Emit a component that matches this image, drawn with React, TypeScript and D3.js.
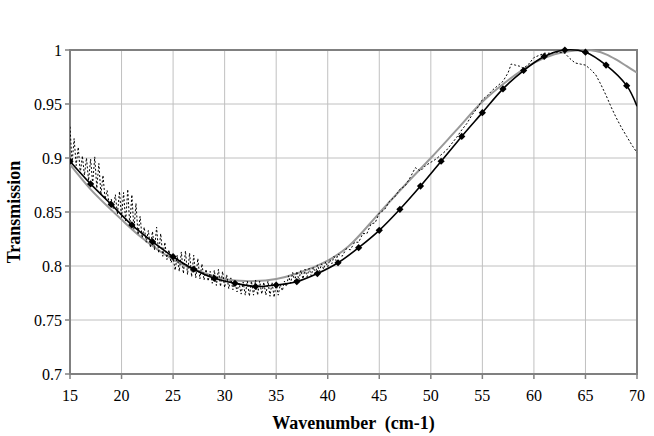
import { useMemo } from 'react'
import * as d3 from 'd3'

// fitted model with markers (black)
const modelX = [15, 17, 19, 21, 23, 25, 27, 29, 31, 33, 35, 37, 39, 41, 43, 45, 47, 49, 51, 53, 55, 57, 59, 61, 63, 65, 67, 69, 70]
const modelY = [0.897, 0.876, 0.857, 0.838, 0.8225, 0.8086, 0.797, 0.7886, 0.784, 0.781, 0.7824, 0.7855, 0.793, 0.803, 0.817, 0.833, 0.8525, 0.874, 0.897, 0.92, 0.942, 0.964, 0.981, 0.994, 1.0, 0.998, 0.986, 0.967, 0.948]
const markerCount = 28

// smooth fit (grey)
const fitX = [15, 17, 20, 22, 25, 27, 30, 32, 35, 37, 40, 42, 45, 47.5, 50, 52.5, 55, 57.5, 60, 62, 64, 65, 66, 67, 68, 69, 70]
const fitY = [0.894, 0.871, 0.843, 0.826, 0.806, 0.797, 0.788, 0.786, 0.788, 0.793, 0.805, 0.818, 0.849, 0.875, 0.9, 0.926, 0.952, 0.972, 0.988, 0.996, 0.9995, 1.0, 0.999, 0.996, 0.991, 0.985, 0.979]

// measured spectrum (dotted)
const measX = [
  15.0, 15.2, 15.4, 15.6, 15.8, 16.0, 16.2, 16.4, 16.6, 16.8, 17.0, 17.2, 17.4, 17.6, 17.8, 18.0, 18.2, 18.4, 18.6, 18.8,
  19.0, 19.2, 19.4, 19.6, 19.8, 20.0, 20.2, 20.4, 20.6, 20.8, 21.0, 21.2, 21.4, 21.6, 21.8, 22.0, 22.2, 22.4, 22.6, 22.8,
  23.0, 23.2, 23.4, 23.6, 23.8, 24.0, 24.2, 24.4, 24.6, 24.8, 25.0, 25.2, 25.4, 25.6, 25.8, 26.0, 26.2, 26.4, 26.6, 26.8,
  27.0, 27.2, 27.4, 27.6, 27.8, 28.0, 28.2, 28.4, 28.6, 28.8, 29.0, 29.2, 29.4, 29.6, 29.8, 30.0, 30.2, 30.4, 30.6, 30.8,
  31.0, 31.2, 31.4, 31.6, 31.8, 32.0, 32.2, 32.4, 32.6, 32.8, 33.0, 33.2, 33.4, 33.6, 33.8, 34.0, 34.2, 34.4, 34.6, 34.8,
  35.0, 35.2, 35.4, 35.6, 35.8, 36.0, 36.2, 36.4, 36.6, 36.8, 37.0, 37.2, 37.4, 37.6, 37.8, 38.0, 38.2, 38.4, 38.6, 38.8,
  39.0, 39.2, 39.4, 39.6, 39.8, 40.0, 40.2, 40.4, 40.6, 40.8, 41.0, 41.4, 41.8, 42.2, 42.6, 43.0, 43.4, 43.8, 44.2, 44.6,
  45.0, 45.5, 46.0, 46.5, 47.0, 47.5, 48.0, 48.5, 49.0, 49.5, 50.0, 50.5, 51.0, 51.5, 52.0, 52.5, 53.0, 53.5, 54.0, 54.5,
  55.0, 55.5, 56.0, 56.5, 57.0, 57.5, 57.8, 58.2, 58.6, 59.0, 59.5, 60.0, 60.5, 61.0, 61.5, 62.0, 62.5, 63.0, 63.5, 64.0,
  64.5, 65.0, 65.5, 66.0, 66.5, 67.0, 67.5, 68.0, 68.5, 69.0, 69.5, 70.0,
]
const measY = [
  0.929, 0.895, 0.918, 0.893, 0.91, 0.886, 0.902, 0.884, 0.9, 0.879, 0.899, 0.876, 0.901, 0.872, 0.895, 0.866, 0.884, 0.862, 0.87, 0.857,
  0.862, 0.853, 0.866, 0.848, 0.869, 0.845, 0.868, 0.841, 0.871, 0.837, 0.866, 0.834, 0.858, 0.829, 0.846, 0.826, 0.836, 0.822, 0.833, 0.817,
  0.832, 0.815, 0.836, 0.812, 0.83, 0.809, 0.822, 0.806, 0.815, 0.803, 0.808, 0.796, 0.81, 0.795, 0.813, 0.793, 0.814, 0.792, 0.812, 0.79,
  0.81, 0.789, 0.807, 0.788, 0.802, 0.787, 0.797, 0.786, 0.795, 0.784, 0.796, 0.782, 0.797, 0.781, 0.795, 0.78, 0.792, 0.779, 0.789, 0.778,
  0.786, 0.776, 0.784, 0.774, 0.785, 0.773, 0.786, 0.772, 0.786, 0.773, 0.787, 0.773, 0.786, 0.774, 0.785, 0.773, 0.786, 0.772, 0.785, 0.771,
  0.784, 0.773, 0.783, 0.777, 0.786, 0.781, 0.791, 0.784, 0.794, 0.786, 0.795, 0.787, 0.796, 0.788, 0.797, 0.79, 0.798, 0.791, 0.799, 0.793,
  0.801, 0.795, 0.802, 0.797, 0.804, 0.799, 0.806, 0.802, 0.809, 0.805, 0.811, 0.809, 0.816, 0.815, 0.822, 0.822, 0.83, 0.83, 0.839, 0.84,
  0.849, 0.852, 0.86, 0.864, 0.871, 0.874, 0.882, 0.891, 0.888, 0.893, 0.896, 0.899, 0.903, 0.907, 0.913, 0.919, 0.926, 0.932, 0.94, 0.946,
  0.954, 0.958, 0.963, 0.967, 0.971, 0.979, 0.987, 0.986, 0.985, 0.983, 0.987, 0.993, 0.995, 0.997, 0.997, 0.998, 0.998, 0.997, 0.992, 0.988,
  0.987, 0.986, 0.982, 0.977, 0.968, 0.958, 0.947, 0.937, 0.928, 0.92, 0.912, 0.905,
]

const xTicks = [15, 20, 25, 30, 35, 40, 45, 50, 55, 60, 65, 70]
const yTicks = [0.7, 0.75, 0.8, 0.85, 0.9, 0.95, 1]

const W = 654
const H = 436
const left = 70
const right = 637
const top = 50
const bottom = 374
const font = 'Liberation Serif'

export default function App() {
  const x = d3.scaleLinear().domain([15, 70]).range([left, right])
  const y = d3.scaleLinear().domain([0.7, 1]).range([bottom, top])

  const paths = useMemo(() => {
    const line = d3
      .line<[number, number]>()
      .x((d) => x(d[0]))
      .y((d) => y(d[1]))
    const smooth = d3
      .line<[number, number]>()
      .x((d) => x(d[0]))
      .y((d) => y(d[1]))
      .curve(d3.curveCatmullRom.alpha(0.5))
    return {
      model: smooth(modelX.map((v, i) => [v, modelY[i]])) ?? '',
      fit: smooth(fitX.map((v, i) => [v, fitY[i]])) ?? '',
      meas: line(measX.map((v, i) => [v, measY[i]])) ?? '',
    }
  }, [])

  const diamond = d3.symbol().type(d3.symbolSquare).size(26)() ?? ''
  const textStyle = { fontFamily: font }

  return (
    <svg width={W} height={H} style={{ position: 'absolute', left: 0, top: 0, background: '#fff' }}>
      <defs>
        <clipPath id="plot">
          <rect x={left} y={top - 4} width={right - left} height={bottom - top + 8} />
        </clipPath>
      </defs>
      {yTicks.map((t) => (
        <line key={`gy${t}`} x1={left} x2={right} y1={y(t)} y2={y(t)} stroke="#c0c0c0" strokeWidth={1} />
      ))}
      {xTicks.map((t) => (
        <line key={`gx${t}`} x1={x(t)} x2={x(t)} y1={top} y2={bottom} stroke="#c0c0c0" strokeWidth={1} />
      ))}
      <rect x={left} y={top} width={right - left} height={bottom - top} fill="none" stroke="#808080" strokeWidth={2} />
      {yTicks.map((t) => (
        <line key={`ty${t}`} x1={left - 5} x2={left} y1={y(t)} y2={y(t)} stroke="#808080" strokeWidth={1.5} />
      ))}
      {xTicks.map((t) => (
        <line key={`tx${t}`} x1={x(t)} x2={x(t)} y1={bottom} y2={bottom + 5} stroke="#808080" strokeWidth={1.5} />
      ))}
      <g clipPath="url(#plot)">
        <path d={paths.fit} fill="none" stroke="#999" strokeWidth={2} />
        <path d={paths.meas} fill="none" stroke="#000" strokeWidth={1} strokeDasharray="2 2" />
        <path d={paths.model} fill="none" stroke="#000" strokeWidth={1.6} />
        {modelX.slice(0, markerCount).map((v, i) => (
          <path key={`m${v}`} d={diamond} transform={`translate(${x(v)},${y(modelY[i])}) rotate(45)`} fill="#000" />
        ))}
      </g>
      {yTicks.map((t) => (
        <text key={`ly${t}`} x={left - 8} y={y(t)} dy="0.35em" textAnchor="end" fontSize={16} fill="#000" style={textStyle}>
          {t}
        </text>
      ))}
      {xTicks.map((t) => (
        <text key={`lx${t}`} x={x(t)} y={bottom + 27} textAnchor="middle" fontSize={16} fill="#000" style={textStyle}>
          {t}
        </text>
      ))}
      <text
        x={(left + right) / 2}
        y={429}
        textAnchor="middle"
        fontSize={18}
        fontWeight="bold"
        fill="#000"
        style={{ ...textStyle, whiteSpace: 'pre' }}
      >
        {'Wavenumber  (cm-1)'}
      </text>
      <text
        transform={`translate(20,${(top + bottom) / 2}) rotate(-90)`}
        textAnchor="middle"
        fontSize={18}
        fontWeight="bold"
        fill="#000"
        style={textStyle}
      >
        Transmission
      </text>
    </svg>
  )
}
